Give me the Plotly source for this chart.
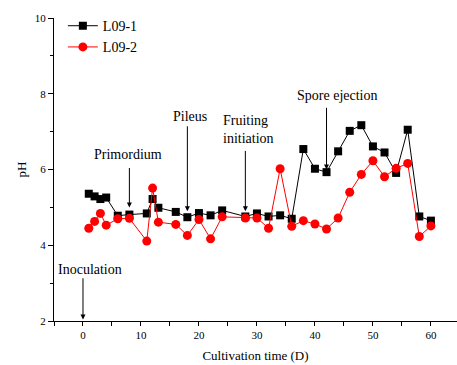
import plotly.graph_objects as go

# ---- data ----
days = [1, 2, 3, 4, 6, 8, 11, 12, 13, 16, 18, 20, 22, 24, 28, 30, 32, 34, 36,
        38, 40, 42, 44, 46, 48, 50, 52, 54, 56, 58, 60]
ph_l09_1 = [5.36, 5.29, 5.22, 5.26, 4.78, 4.81, 4.84, 5.22, 4.99, 4.88, 4.74,
            4.85, 4.79, 4.92, 4.76, 4.84, 4.76, 4.79, 4.70,
            6.54, 6.02, 5.93, 6.48, 7.02, 7.17, 6.61, 6.45, 5.91, 7.05, 4.76, 4.65]
ph_l09_2 = [4.45, 4.63, 4.84, 4.53, 4.70, 4.71, 4.11, 5.51, 4.61, 4.55, 4.26,
            4.68, 4.17, 4.75, 4.72, 4.72, 4.45, 6.02, 4.50,
            4.65, 4.56, 4.43, 4.72, 5.40, 5.87, 6.23, 5.81, 6.03, 6.16, 4.23, 4.51]

x_ticks = [0, 10, 20, 30, 40, 50, 60]
y_ticks = [2, 4, 6, 8, 10]

# stage annotations: label, arrow x, arrow tail y, arrow tip y, label x, label y
stage_labels = ["Inoculation", "Primordium", "Pileus", "Fruiting<br>initiation", "Spore ejection"]
stage_x = [0, 8, 18, 28, 42]
stage_tail = [3.17, 6.08, 7.18, 6.53, 7.67]
stage_tip = [2.04, 5.0, 4.90, 4.90, 6.0]
label_x = [1.2, 7.8, 18.4, 28.6, 43.8]
label_y = [3.36, 6.39, 7.39, 7.06, 7.95]

FONT = "'Liberation Serif', 'Times New Roman', Times, serif"

fig = go.Figure()
fig.add_trace(go.Scatter(
    x=days, y=ph_l09_1, name="L09-1", mode="lines+markers",
    line=dict(color="black", width=1),
    marker=dict(symbol="square", size=8, color="black"),
))
fig.add_trace(go.Scatter(
    x=days, y=ph_l09_2, name="L09-2", mode="lines+markers",
    line=dict(color="#ff0000", width=1),
    marker=dict(symbol="circle", size=9, color="#ff0000"),
))

annotations = []
for lab, sx, t0, t1, lx, ly in zip(stage_labels, stage_x, stage_tail, stage_tip, label_x, label_y):
    annotations.append(dict(
        x=sx, y=t1, ax=sx, ay=t0, xref="x", yref="y", axref="x", ayref="y",
        text="", showarrow=True, arrowhead=2, arrowsize=1, arrowwidth=1,
        arrowcolor="black", standoff=0, startstandoff=0,
    ))
    annotations.append(dict(
        x=lx, y=ly, xref="x", yref="y", text=lab, showarrow=False,
        font=dict(family=FONT, size=14, color="black"), align="left",
        xanchor="center", yanchor="middle",
    ))

fig.update_layout(
    width=457, height=365,
    margin=dict(l=54, r=0, t=18, b=44, autoexpand=False),
    paper_bgcolor="white", plot_bgcolor="white",
    font=dict(family=FONT, size=11, color="black"),
    showlegend=True,
    legend=dict(x=0.022, y=1.026, xanchor="left", yanchor="top",
                bgcolor="rgba(0,0,0,0)", font=dict(family=FONT, size=14),
                itemwidth=30, tracegroupgap=0),
    annotations=annotations,
    xaxis=dict(
        range=[-5, 64.5], tickvals=x_ticks, showgrid=False, zeroline=False,
        showline=True, linecolor="black", linewidth=1, automargin=False,
        ticks="outside", ticklen=4, tickcolor="black",
        minor=dict(dtick=5, tick0=0, ticks="outside", ticklen=4, tickcolor="black"),
        title=dict(text="Cultivation time (D)", font=dict(family=FONT, size=13), standoff=10),
        tickfont=dict(family=FONT, size=11),
    ),
    yaxis=dict(
        range=[2, 10], tickvals=y_ticks, showgrid=False, zeroline=False,
        showline=True, linecolor="black", linewidth=1, automargin=False,
        ticks="outside", ticklen=5, tickcolor="black",
        minor=dict(dtick=1, tick0=0, ticks="outside", ticklen=3, tickcolor="black"),
        title=dict(text="pH", font=dict(family=FONT, size=13), standoff=5),
        tickfont=dict(family=FONT, size=11),
    ),
)

fig.write_html("out.html", config={"displayModeBar": False},
               post_script="document.body.style.margin='0';")
